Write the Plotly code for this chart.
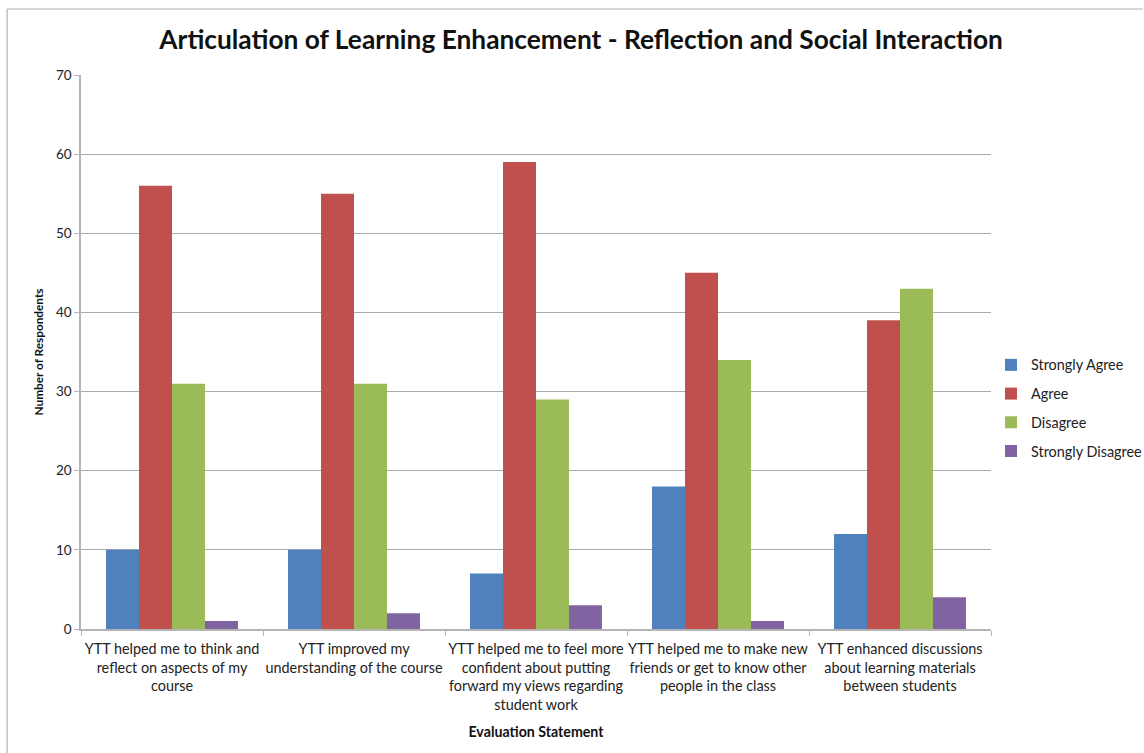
import plotly.graph_objects as go

categories = [
    "YTT helped me to think and<br>reflect on aspects of my<br>course",
    "YTT improved my<br>understanding of the course",
    "YTT helped me to feel more<br>confident about putting<br>forward my views regarding<br>student work",
    "YTT helped me to make new<br>friends or get to know other<br>people in the class",
    "YTT enhanced discussions<br>about learning materials<br>between students",
]
strongly_agree = [10, 10, 7, 18, 12]
agree = [56, 55, 59, 45, 39]
disagree = [31, 31, 29, 34, 43]
strongly_disagree = [1, 2, 3, 1, 4]

series = [
    ("Strongly Agree", strongly_agree, "#4F81BD"),
    ("Agree", agree, "#C0504D"),
    ("Disagree", disagree, "#9BBB59"),
    ("Strongly Disagree", strongly_disagree, "#8064A2"),
]

FONT = "Lato, 'Open Sans', sans-serif"

fig = go.Figure()
for i, (name, vals, col) in enumerate(series):
    fig.add_trace(go.Bar(x=categories, y=vals, name=name, marker_color=col,
                         marker_line_width=0, legendgroup=f"g{i}"))

fig.update_layout(
    width=1144, height=753,
    paper_bgcolor="white", plot_bgcolor="white",
    margin=dict(l=81, r=152, t=75, b=124),
    barmode="group", bargap=0.275, bargroupgap=0,
    font=dict(family=FONT, size=13, color="#222"),
    title=dict(text="<b>Articulation of Learning Enhancement - Reflection and Social Interaction</b>",
               x=0.508, xanchor="center", y=1 - 40 / 753, yanchor="middle",
               font=dict(family=FONT, size=26.3, color="#111")),
    legend=dict(xref="container", yref="container", x=991 / 1144, xanchor="left",
                y=1 - 408 / 753, yanchor="middle",
                font=dict(family=FONT, size=14.4, color="#222"),
                tracegroupgap=7, itemwidth=30, traceorder="grouped"),
    xaxis=dict(
        type="category", showline=True, linecolor="#B4B4B4", linewidth=1.5,
        ticks="outside", tickson="boundaries", ticklen=5, tickcolor="#B4B4B4",
        tickangle=0, automargin=False, ticklabelstandoff=6,
        tickfont=dict(family=FONT, size=14.4, color="#222"),
        title=dict(text="<b>Evaluation Statement</b>", standoff=15,
                   font=dict(family=FONT, size=14.2, color="#111")),
    ),
    yaxis=dict(
        range=[0, 70], dtick=10, showgrid=True, gridcolor="#ABABAB", gridwidth=1,
        showline=True, linecolor="#B4B4B4", linewidth=1.5,
        ticks="outside", ticklen=5, tickcolor="#B4B4B4", automargin=False,
        tickfont=dict(family=FONT, size=13.5, color="#222"),
        title=dict(text="<b>Number of Respondents</b>", standoff=10,
                   font=dict(family=FONT, size=11.8, color="#111")),
        zeroline=False,
    ),
)

# outer chart border (top & left visible)
fig.add_shape(type="line", xref="paper", yref="paper",
              x0=(7 - 81) / 911, x1=(1144 - 81) / 911,
              y0=(629 - 9) / 554, y1=(629 - 9) / 554,
              line=dict(color="#B0B0B0", width=1.2), layer="below")
fig.add_shape(type="line", xref="paper", yref="paper",
              x0=(7 - 81) / 911, x1=(7 - 81) / 911,
              y0=(629 - 753) / 554, y1=(629 - 9) / 554,
              line=dict(color="#B0B0B0", width=1.2), layer="below")

fig.write_html("out.html", config={"displayModeBar": False},
               post_script="document.body.style.margin='0';")
